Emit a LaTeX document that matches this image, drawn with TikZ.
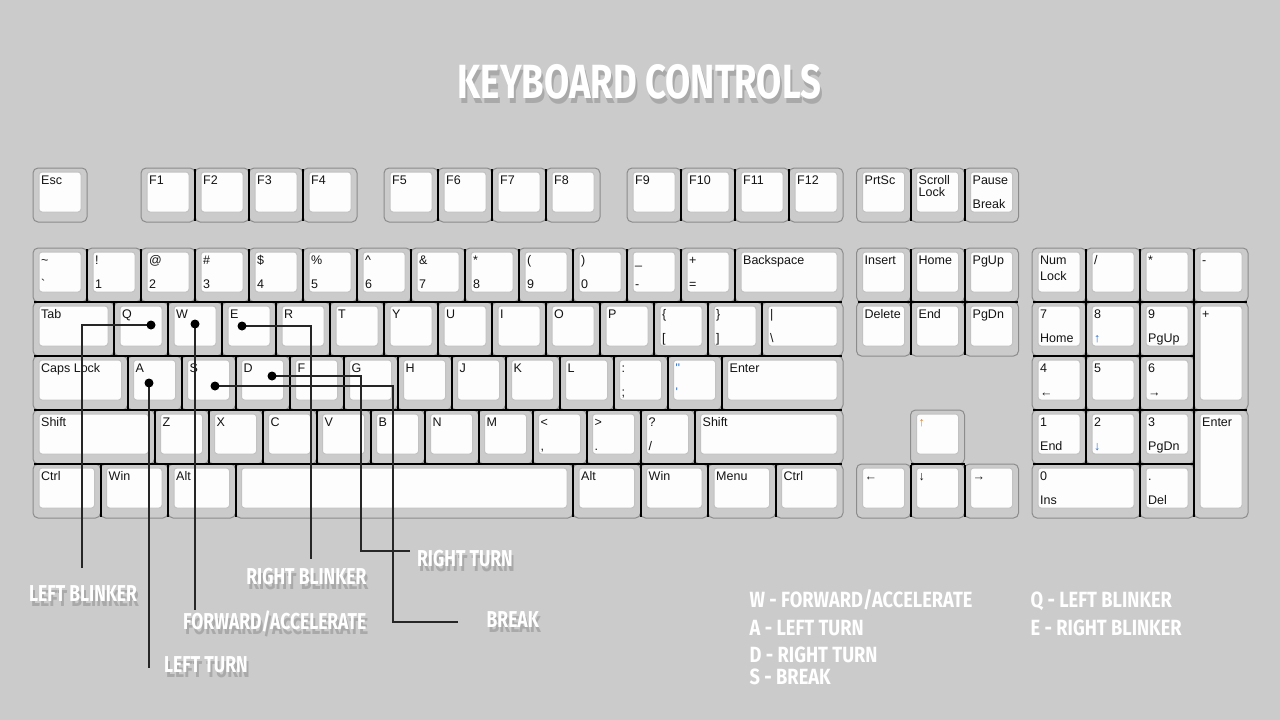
\documentclass[tikz,border=0pt]{standalone}
\usepackage{fontspec}
\newfontfamily\keyfont{Liberation Sans}
\newfontfamily\dispfont[FakeStretch=0.76]{Fira Sans}
\newfontfamily\legdispfont[FakeStretch=0.83]{Fira Sans}
\definecolor{bgc}{HTML}{CBCBCB}
\definecolor{keyedge}{HTML}{8C8C8C}
\definecolor{capfill}{HTML}{FDFDFD}
\definecolor{capedge}{HTML}{C2C2C2}
\definecolor{lblc}{HTML}{141414}
\definecolor{connc}{HTML}{262626}
\definecolor{cblue}{HTML}{2E6FCC}
\definecolor{corange}{HTML}{D9822B}
\definecolor{shadc}{HTML}{8E8E8E}
\tikzset{
  keyout/.style={rounded corners=5pt, fill=bgc, draw=keyedge, line width=1pt},
  keycap/.style={rounded corners=3pt, fill=capfill, draw=capedge, line width=1pt},
  keylbl/.style={anchor=base west, inner sep=0pt, text=lblc, font=\keyfont\fontsize{12.5}{14}\selectfont},
  seam/.style={black, line width=2pt},
  connline/.style={connc, line width=2pt},
  dotc/.style={fill=black},
  disp/.style={inner sep=0pt},
}
% name, x, y, w, h, top label, bottom label
\newcommand\kbkey[7]{%
  \begin{scope}[shift={(#2,#3)}]
    \draw[keyout] (0,0) rectangle (#4,#5);
    \draw[keycap] (6,4) rectangle ({#4-6},{#5-10});
    \node[keylbl] (#1t) at (8,16.5) {#6};
    \node[keylbl] (#1b) at (8,40.5) {#7};
  \end{scope}}
% name, x, y, anchor, content  (white text with a soft drop shadow)
\newcommand\shtext[5]{%
  \node[disp, anchor=#4, text=shadc, opacity=0.55] (#1sh) at ({#2+2},{#3+5}) {#5};
  \node[disp, anchor=#4, text=white] (#1) at (#2,#3) {#5};}
\newcommand\titlefnt{\dispfont\bfseries\fontsize{48}{50}\selectfont}
\newcommand\labfnt{\dispfont\bfseries\fontsize{23}{25}\selectfont}
\newcommand\legfnt{\legdispfont\bfseries\fontsize{22}{24}\selectfont}
\begin{document}
\begin{tikzpicture}[x=1pt, y=-1pt]
\fill[bgc] (0,0) rectangle (1280,720);
\useasboundingbox (0,0) rectangle (1280,720);

% ---------- function row ----------
\kbkey{kEsc}{33}{168}{54}{54}{Esc}{}
\kbkey{kF1}{141}{168}{54}{54}{F1}{}
\kbkey{kF2}{195}{168}{54}{54}{F2}{}
\kbkey{kF3}{249}{168}{54}{54}{F3}{}
\kbkey{kF4}{303}{168}{54}{54}{F4}{}
\kbkey{kF5}{384}{168}{54}{54}{F5}{}
\kbkey{kF6}{438}{168}{54}{54}{F6}{}
\kbkey{kF7}{492}{168}{54}{54}{F7}{}
\kbkey{kF8}{546}{168}{54}{54}{F8}{}
\kbkey{kF9}{627}{168}{54}{54}{F9}{}
\kbkey{kF10}{681}{168}{54}{54}{F10}{}
\kbkey{kF11}{735}{168}{54}{54}{F11}{}
\kbkey{kF12}{789}{168}{54}{54}{F12}{}
\kbkey{kPrt}{856.5}{168}{54}{54}{PrtSc}{}
\kbkey{kScr}{910.5}{168}{54}{54}{Scroll}{}
\node[keylbl] (kScrL) at (918.5,196.5) {Lock};
\kbkey{kPau}{964.5}{168}{54}{54}{Pause}{Break}

% ---------- number row ----------
\kbkey{kTil}{33}{248}{54}{54}{\textasciitilde}{\symbol{96}}
\kbkey{k1}{87}{248}{54}{54}{!}{1}
\kbkey{k2}{141}{248}{54}{54}{@}{2}
\kbkey{k3}{195}{248}{54}{54}{\#}{3}
\kbkey{k4}{249}{248}{54}{54}{\$}{4}
\kbkey{k5}{303}{248}{54}{54}{\%}{5}
\kbkey{k6}{357}{248}{54}{54}{\textasciicircum}{6}
\kbkey{k7}{411}{248}{54}{54}{\&}{7}
\kbkey{k8}{465}{248}{54}{54}{*}{8}
\kbkey{k9}{519}{248}{54}{54}{(}{9}
\kbkey{k0}{573}{248}{54}{54}{)}{0}
\kbkey{kMin}{627}{248}{54}{54}{\_}{-}
\kbkey{kEq}{681}{248}{54}{54}{+}{=}
\kbkey{kBsp}{735}{248}{108}{54}{Backspace}{}

% ---------- Q row ----------
\kbkey{kTab}{33}{302}{81}{54}{Tab}{}
\kbkey{kQ}{114}{302}{54}{54}{Q}{}
\kbkey{kW}{168}{302}{54}{54}{W}{}
\kbkey{kE}{222}{302}{54}{54}{E}{}
\kbkey{kR}{276}{302}{54}{54}{R}{}
\kbkey{kT}{330}{302}{54}{54}{T}{}
\kbkey{kY}{384}{302}{54}{54}{Y}{}
\kbkey{kU}{438}{302}{54}{54}{U}{}
\kbkey{kI}{492}{302}{54}{54}{I}{}
\kbkey{kO}{546}{302}{54}{54}{O}{}
\kbkey{kP}{600}{302}{54}{54}{P}{}
\kbkey{kLb}{654}{302}{54}{54}{\{}{[}
\kbkey{kRb}{708}{302}{54}{54}{\}}{]}
\kbkey{kBs}{762}{302}{81}{54}{\textbar}{\textbackslash}

% ---------- A row ----------
\kbkey{kCaps}{33}{356}{94.5}{54}{Caps Lock}{}
\kbkey{kA}{127.5}{356}{54}{54}{A}{}
\kbkey{kS}{181.5}{356}{54}{54}{S}{}
\kbkey{kD}{235.5}{356}{54}{54}{D}{}
\kbkey{kF}{289.5}{356}{54}{54}{F}{}
\kbkey{kG}{343.5}{356}{54}{54}{G}{}
\kbkey{kH}{397.5}{356}{54}{54}{H}{}
\kbkey{kJ}{451.5}{356}{54}{54}{J}{}
\kbkey{kK}{505.5}{356}{54}{54}{K}{}
\kbkey{kL}{559.5}{356}{54}{54}{L}{}
\kbkey{kSc}{613.5}{356}{54}{54}{:}{;}
\kbkey{kQt}{667.5}{356}{54}{54}{\textcolor{cblue}{\symbol{34}}}{\textcolor{cblue}{\symbol{39}}}
\kbkey{kEnt}{721.5}{356}{121.5}{54}{Enter}{}

% ---------- Shift row ----------
\kbkey{kLSh}{33}{410}{121.5}{54}{Shift}{}
\kbkey{kZ}{154.5}{410}{54}{54}{Z}{}
\kbkey{kX}{208.5}{410}{54}{54}{X}{}
\kbkey{kC}{262.5}{410}{54}{54}{C}{}
\kbkey{kV}{316.5}{410}{54}{54}{V}{}
\kbkey{kB}{370.5}{410}{54}{54}{B}{}
\kbkey{kN}{424.5}{410}{54}{54}{N}{}
\kbkey{kM}{478.5}{410}{54}{54}{M}{}
\kbkey{kCm}{532.5}{410}{54}{54}{\textless}{,}
\kbkey{kPd}{586.5}{410}{54}{54}{\textgreater}{.}
\kbkey{kSl}{640.5}{410}{54}{54}{?}{/}
\kbkey{kRSh}{694.5}{410}{148.5}{54}{Shift}{}

% ---------- Ctrl row ----------
\kbkey{kLCt}{33}{464}{67.5}{54}{Ctrl}{}
\kbkey{kLWin}{100.5}{464}{67.5}{54}{Win}{}
\kbkey{kLAlt}{168}{464}{67.5}{54}{Alt}{}
\kbkey{kSpc}{235.5}{464}{337.5}{54}{}{}
\kbkey{kRAlt}{573}{464}{67.5}{54}{Alt}{}
\kbkey{kRWin}{640.5}{464}{67.5}{54}{Win}{}
\kbkey{kMenu}{708}{464}{67.5}{54}{Menu}{}
\kbkey{kRCt}{775.5}{464}{67.5}{54}{Ctrl}{}

% ---------- navigation ----------
\kbkey{kIns}{856.5}{248}{54}{54}{Insert}{}
\kbkey{kHome}{910.5}{248}{54}{54}{Home}{}
\kbkey{kPgUp}{964.5}{248}{54}{54}{PgUp}{}
\kbkey{kDel}{856.5}{302}{54}{54}{Delete}{}
\kbkey{kEnd}{910.5}{302}{54}{54}{End}{}
\kbkey{kPgDn}{964.5}{302}{54}{54}{PgDn}{}
\kbkey{kUp}{910.5}{410}{54}{54}{\textcolor{corange}{↑}}{}
\kbkey{kLeft}{856.5}{464}{54}{54}{←}{}
\kbkey{kDown}{910.5}{464}{54}{54}{↓}{}
\kbkey{kRight}{964.5}{464}{54}{54}{→}{}

% ---------- numpad ----------
\kbkey{kNum}{1032}{248}{54}{54}{Num}{}
\node[keylbl] (kNumL) at (1040,280.5) {Lock};
\kbkey{kNDiv}{1086}{248}{54}{54}{/}{}
\kbkey{kNMul}{1140}{248}{54}{54}{*}{}
\kbkey{kNSub}{1194}{248}{54}{54}{-}{}
\kbkey{kN7}{1032}{302}{54}{54}{7}{Home}
\kbkey{kN8}{1086}{302}{54}{54}{8}{\textcolor{cblue}{↑}}
\kbkey{kN9}{1140}{302}{54}{54}{9}{PgUp}
\kbkey{kNAdd}{1194}{302}{54}{108}{+}{}
\kbkey{kN4}{1032}{356}{54}{54}{4}{←}
\kbkey{kN5}{1086}{356}{54}{54}{5}{}
\kbkey{kN6}{1140}{356}{54}{54}{6}{→}
\kbkey{kN1}{1032}{410}{54}{54}{1}{End}
\kbkey{kN2}{1086}{410}{54}{54}{2}{\textcolor{cblue}{↓}}
\kbkey{kN3}{1140}{410}{54}{54}{3}{PgDn}
\kbkey{kNEnt}{1194}{410}{54}{108}{Enter}{}
\kbkey{kN0}{1032}{464}{108}{54}{0}{Ins}
\kbkey{kNDot}{1140}{464}{54}{54}{.}{Del}

% ---------- seams between adjacent keys ----------
\foreach \yy in {302,356,410,464} \draw[seam] (34,\yy) -- (842,\yy);
\foreach \xx in {87,141,...,735} \draw[seam] (\xx,249) -- (\xx,302);
\foreach \xx in {114,168,...,762} \draw[seam] (\xx,302) -- (\xx,356);
\foreach \xx in {127.5,181.5,...,721.5} \draw[seam] (\xx,356) -- (\xx,410);
\foreach \xx in {154.5,208.5,...,694.5} \draw[seam] (\xx,410) -- (\xx,464);
\foreach \xx in {100.5,168,235.5,573,640.5,708,775.5} \draw[seam] (\xx,464) -- (\xx,517);
\foreach \xx in {195,249,303,438,492,546,681,735,789,910.5,964.5} \draw[seam] (\xx,169) -- (\xx,221);
\foreach \xx in {910.5,964.5} \draw[seam] (\xx,249) -- (\xx,355);
\draw[seam] (857.5,302) -- (1017.5,302);
\foreach \xx in {910.5,964.5} \draw[seam] (\xx,465) -- (\xx,517);
\draw[seam] (910.5,464) -- (964.5,464);
\draw[seam] (1033,302) -- (1247,302);
\draw[seam] (1033,356) -- (1194,356);
\draw[seam] (1033,410) -- (1247,410);
\draw[seam] (1033,464) -- (1194,464);
\draw[seam] (1086,249) -- (1086,464);
\foreach \xx in {1140,1194} \draw[seam] (\xx,249) -- (\xx,517);

% ---------- title ----------
\shtext{title}{639.5}{98.5}{base}{\titlefnt KEYBOARD CONTROLS}

% ---------- callout labels ----------
\shtext{lLB}{29}{601}{base west}{\labfnt LEFT BLINKER}
\shtext{lRB}{366.5}{584}{base east}{\labfnt RIGHT BLINKER}
\shtext{lFW}{366.5}{629}{base east}{\labfnt FORWARD/ACCELERATE}
\shtext{lLT}{164}{672}{base west}{\labfnt LEFT TURN}
\shtext{lRT}{417}{566.5}{base west}{\labfnt RIGHT TURN}
\shtext{lBR}{486.5}{627.5}{base west}{\labfnt BREAK}

% ---------- legend ----------
\node[disp, anchor=base west, text=white] (gW) at (749.5,607.5) {\legfnt W - FORWARD/ACCELERATE};
\node[disp, anchor=base west, text=white] (gA) at (749.5,635.5) {\legfnt A - LEFT TURN};
\node[disp, anchor=base west, text=white] (gD) at (749.5,662) {\legfnt D - RIGHT TURN};
\node[disp, anchor=base west, text=white] (gS) at (749.5,684.5) {\legfnt S - BREAK};
\node[disp, anchor=base west, text=white] (gQ) at (1030.5,607.5) {\legfnt Q - LEFT BLINKER};
\node[disp, anchor=base west, text=white] (gE) at (1030.5,635.5) {\legfnt E - RIGHT BLINKER};

% ---------- connectors ----------
\coordinate (dQ) at (151,325);  \coordinate (eQ) at (82,568);
\coordinate (dW) at (195,324);  \coordinate (eW) at (195,610);
\coordinate (dE) at (242,326);  \coordinate (eE) at (311,559);
\coordinate (dA) at (149,383);  \coordinate (eA) at (149,668);
\coordinate (dD) at (272,376);  \coordinate (cD) at (361,551); \coordinate (eD) at (410,551);
\coordinate (dS) at (215,386);  \coordinate (cS) at (393,622); \coordinate (eS) at (458,622);
\draw[connline] (dQ) -| (eQ);
\draw[connline] (dW) -- (eW);
\draw[connline] (dE) -| (eE);
\draw[connline] (dA) -- (eA);
\draw[connline] (dD) -| (cD) -- (eD);
\draw[connline] (dS) -| (cS) -- (eS);
\foreach \p in {dQ,dW,dE,dA,dD,dS} \fill[dotc] (\p) circle (4.5);
\end{tikzpicture}
\end{document}
